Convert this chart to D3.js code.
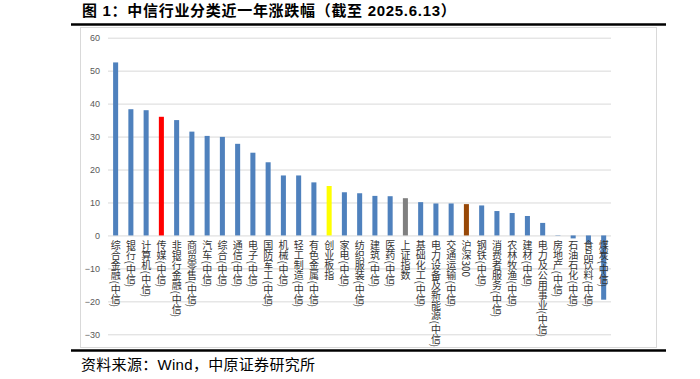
<!DOCTYPE html>
<html>
<head>
<meta charset="utf-8">
<script src="https://cdn.jsdelivr.net/npm/d3@7/dist/d3.min.js"></script>
<style>
  html, body { margin: 0; padding: 0; background: #fff; }
  svg { display: block; }
</style>
</head>
<body>
<svg id="chart" width="700" height="379"></svg>
<script>
const categories = [
  "综合金融(中信)", "银行(中信)", "计算机(中信)", "传媒(中信)", "非银行金融(中信)",
  "商贸零售(中信)", "汽车(中信)", "综合(中信)", "通信(中信)", "电子(中信)",
  "国防军工(中信)", "机械(中信)", "轻工制造(中信)", "有色金属(中信)", "创业板指",
  "家电(中信)", "纺织服装(中信)", "建筑(中信)", "医药(中信)", "上证指数",
  "基础化工(中信)", "电力设备及新能源(中信)", "交通运输(中信)", "沪深300", "钢铁(中信)",
  "消费者服务(中信)", "农林牧渔(中信)", "建材(中信)", "电力及公用事业(中信)", "房地产(中信)",
  "石油石化(中信)", "食品饮料(中信)", "煤炭(中信)"
];
const values = [
  52.5, 38.3, 38.0, 36.0, 35.0,
  31.5, 30.2, 29.9, 27.8, 25.1,
  22.2, 18.2, 18.2, 16.1, 15.0,
  13.1, 12.8, 12.0, 11.9, 11.3,
  10.1, 9.7, 9.7, 9.5, 9.1,
  7.4, 6.8, 5.9, 3.8, 0.1,
  -0.9, -2.2, -19.5
];
const highlight = {
  "传媒(中信)": "#ff0000",
  "创业板指": "#ffff00",
  "上证指数": "#808080",
  "沪深300": "#984807"
};
const yTicks = [-30, -20, -10, 0, 10, 20, 30, 40, 50, 60];
const titleText = "图 1：中信行业分类近一年涨跌幅（截至 2025.6.13）";
const sourceText = "资料来源：Wind，中原证券研究所";

const svg = d3.select("#chart");

// title
svg.append("text")
  .attr("x", 82).attr("y", 16)
  .attr("font-family", "'Liberation Sans', 'Noto Sans CJK SC', sans-serif")
  .attr("font-weight", "bold")
  .attr("font-size", 15)
  .attr("letter-spacing", 0.7)
  .attr("fill", "#000")
  .text(titleText);

// thick rules
svg.append("line").attr("x1", 71).attr("x2", 666).attr("y1", 24.5).attr("y2", 24.5)
  .attr("stroke", "#000").attr("stroke-width", 2.5);
svg.append("line").attr("x1", 71).attr("x2", 666).attr("y1", 350.5).attr("y2", 350.5)
  .attr("stroke", "#000").attr("stroke-width", 2.5);

// frame
svg.append("rect").attr("x", 80.5).attr("y", 27.5).attr("width", 576).attr("height", 320)
  .attr("fill", "none").attr("stroke", "#d9d9d9").attr("stroke-width", 1);

const y = d3.scaleLinear().domain([-30, 60]).range([334.3, 37.7]);
const x = d3.scaleBand().domain(categories).range([108, 611.3])
  .paddingInner(0.67).paddingOuter(0.335);

// gridlines
const yAxis = d3.axisLeft(y).tickValues(yTicks).tickSize(-(611 - 108)).tickPadding(8);
const gy = svg.append("g").attr("transform", "translate(108,0)").call(yAxis);
gy.select(".domain").remove();
gy.selectAll(".tick line").attr("stroke", "#d9d9d9").attr("stroke-width", 1);
gy.selectAll(".tick text")
  .attr("font-family", "'Liberation Sans', sans-serif")
  .attr("font-size", 9)
  .attr("fill", "#595959");

// bars
svg.append("g").selectAll("rect").data(categories).join("rect")
  .attr("x", d => x(d))
  .attr("width", x.bandwidth())
  .attr("y", (d, i) => y(Math.max(0, values[i])))
  .attr("height", (d, i) => Math.abs(y(values[i]) - y(0)))
  .attr("fill", d => highlight[d] || "#4f81bd");

// category labels (vertical)
svg.append("g").selectAll("text").data(categories).join("text")
  .attr("x", d => x(d) + x.bandwidth() / 2)
  .attr("y", y(0) + 5)
  .attr("font-family", "'Noto Sans CJK SC', sans-serif")
  .attr("font-size", 10)
  .attr("fill", "#333333")
  .style("writing-mode", "vertical-rl")
  .style("text-orientation", "mixed")
  .text(d => d);

// source
svg.append("text")
  .attr("x", 81).attr("y", 370)
  .attr("font-family", "'Liberation Sans', 'Noto Sans CJK SC', sans-serif")
  .attr("font-size", 15)
  .attr("letter-spacing", 0.3)
  .attr("fill", "#000")
  .text(sourceText);
</script>
</body>
</html>
